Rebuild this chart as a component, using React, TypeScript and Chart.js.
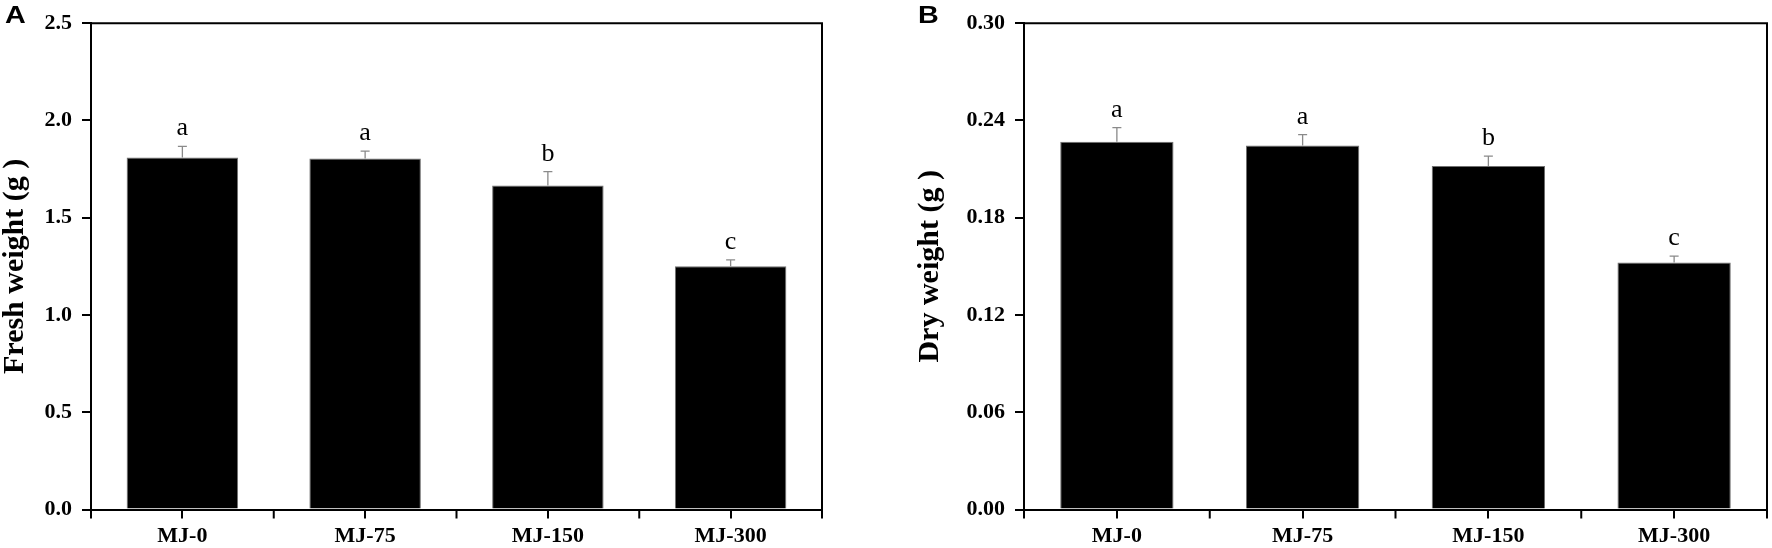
import { useEffect, useRef } from "react"
import { Chart, registerables } from "chart.js"

Chart.register(...registerables)

const categories = ["MJ-0", "MJ-75", "MJ-150", "MJ-300"]

const freshWeight = [1.81, 1.805, 1.665, 1.25]
const freshError = [0.057, 0.037, 0.072, 0.033]
const freshLetters = ["a", "a", "b", "c"]
const freshTicks = [0, 0.5, 1.0, 1.5, 2.0, 2.5]

const dryWeight = [0.2268, 0.2246, 0.2119, 0.1524]
const dryError = [0.0088, 0.0067, 0.0061, 0.0039]
const dryLetters = ["a", "a", "b", "c"]
const dryTicks = [0, 0.06, 0.12, 0.18, 0.24, 0.3]

const SERIF = "'Liberation Serif', 'Times New Roman', serif"

type PanelProps = {
  values: number[]
  errors: number[]
  letters: string[]
  ticks: number[]
  decimals: number
  title: string
  axisWidth: number
  titlePad: number
  rightPad: number
}

function Panel({ values, errors, letters, ticks, decimals, title, axisWidth, titlePad, rightPad }: PanelProps) {
  const chartRef = useRef<HTMLCanvasElement>(null)
  const chartInstance = useRef<Chart | null>(null)

  useEffect(() => {
    if (!chartRef.current) return
    if (chartInstance.current) chartInstance.current.destroy()
    const ctx = chartRef.current.getContext("2d")
    if (!ctx) return

    // error bars (upper whisker only) and significance letters
    const errorBars = {
      id: "errorBars",
      afterDatasetsDraw(chart: Chart) {
        const c = chart.ctx
        const y = chart.scales.y
        const meta = chart.getDatasetMeta(0)
        c.save()
        meta.data.forEach((bar: any, i: number) => {
          const top = y.getPixelForValue(values[i])
          const hi = y.getPixelForValue(values[i] + errors[i])
          c.strokeStyle = "#8a8a8a"
          c.lineWidth = 1.3
          c.beginPath()
          c.moveTo(bar.x, top)
          c.lineTo(bar.x, hi)
          c.moveTo(bar.x - 4.5, hi)
          c.lineTo(bar.x + 4.5, hi)
          c.stroke()
          c.fillStyle = "#000"
          c.font = `26px ${SERIF}`
          c.textAlign = "center"
          c.textBaseline = "alphabetic"
          c.fillText(letters[i], bar.x, hi - 11)
        })
        c.restore()
      },
    }

    // top/right frame lines and ticks between categories
    const frame = {
      id: "frame",
      afterDraw(chart: Chart) {
        const c = chart.ctx
        const { left, right, top, bottom } = chart.chartArea
        const n = categories.length
        const step = (right - left) / n
        c.save()
        c.strokeStyle = "#000"
        c.lineWidth = 2
        c.beginPath()
        c.moveTo(left - 1, top)
        c.lineTo(right, top)
        c.lineTo(right, bottom)
        for (let i = 0; i <= n; i++) {
          const x = left + i * step
          c.moveTo(x, bottom)
          c.lineTo(x, bottom + 9)
        }
        c.stroke()
        c.restore()
      },
    }

    chartInstance.current = new Chart(ctx, {
      type: "bar",
      data: {
        labels: categories,
        datasets: [
          {
            data: values,
            backgroundColor: "#000",
            borderColor: "#707070",
            borderWidth: 1,
            barPercentage: 0.61,
            categoryPercentage: 1,
          },
        ],
      },
      options: {
        animation: false,
        responsive: true,
        maintainAspectRatio: false,
        layout: { padding: { top: 15, right: rightPad, left: 0, bottom: 0 } },
        plugins: { legend: { display: false }, tooltip: { enabled: false } },
        scales: {
          x: {
            afterFit: (s: any) => {
              s.height = 38.5
            },
            border: { display: true, color: "#000", width: 2 },
            grid: {
              display: true,
              offset: false,
              drawOnChartArea: false,
              drawTicks: true,
              tickLength: 9,
              color: "#000",
              lineWidth: 2,
            },
            ticks: {
              color: "#000",
              padding: 5,
              font: { family: SERIF, size: 22, weight: "bold" },
            },
          },
          y: {
            min: 0,
            max: ticks[ticks.length - 1],
            afterFit: (s: any) => {
              s.width = axisWidth
            },
            afterBuildTicks: (s: any) => {
              s.ticks = ticks.map((v) => ({ value: v }))
            },
            border: { display: true, color: "#000", width: 2 },
            grid: {
              display: true,
              drawOnChartArea: false,
              drawTicks: true,
              tickLength: 9,
              color: "#000",
              lineWidth: 2,
            },
            ticks: {
              color: "#000",
              padding: 10,
              font: { family: SERIF, size: 22, weight: "bold" },
              callback: (v: any) => Number(v).toFixed(decimals),
            },
            title: {
              display: true,
              text: title,
              color: "#000",
              padding: { top: titlePad, bottom: 0 },
              font: { family: SERIF, size: 30, weight: "bold", lineHeight: 1 },
            },
          },
        },
      },
      plugins: [errorBars, frame],
    } as any)

    return () => {
      if (chartInstance.current) {
        chartInstance.current.destroy()
        chartInstance.current = null
      }
    }
  }, [])

  return <canvas ref={chartRef} />
}

const panelLabel: React.CSSProperties = {
  position: "absolute",
  top: 1,
  fontFamily: "'Liberation Sans', Arial, sans-serif",
  fontWeight: "bold",
  fontSize: 23,
  lineHeight: "28px",
  color: "#000",
  transform: "scaleX(1.25)",
  transformOrigin: "left top",
}

export default function App() {
  return (
    <div style={{ position: "absolute", left: 0, top: 0, width: 1772, height: 548, background: "#fff" }}>
      <div style={{ position: "absolute", left: 0, top: 0, width: 886, height: 548 }}>
        <Panel
          values={freshWeight}
          errors={freshError}
          letters={freshLetters}
          ticks={freshTicks}
          decimals={1}
          title="Fresh weight (g )"
          axisWidth={91}
          titlePad={0}
          rightPad={64}
        />
      </div>
      <div style={{ position: "absolute", left: 886, top: 0, width: 886, height: 548 }}>
        <Panel
          values={dryWeight}
          errors={dryError}
          letters={dryLetters}
          ticks={dryTicks}
          decimals={2}
          title="Dry weight (g )"
          axisWidth={138}
          titlePad={29}
          rightPad={5}
        />
      </div>
      <div style={{ ...panelLabel, left: 5 }}>A</div>
      <div style={{ ...panelLabel, left: 918 }}>B</div>
    </div>
  )
}
